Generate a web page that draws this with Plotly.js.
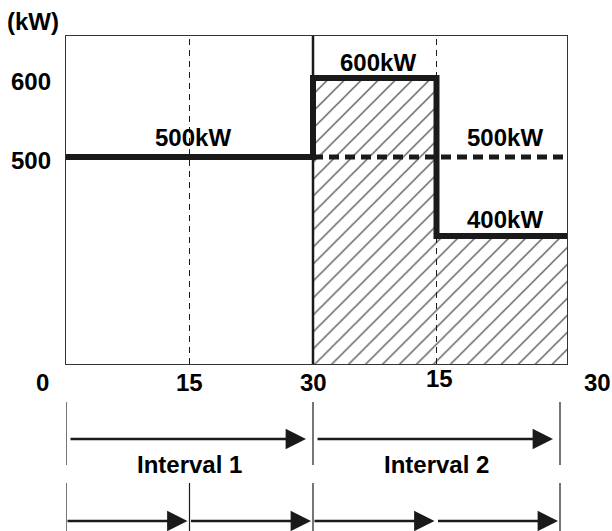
<!DOCTYPE html>
<html>
<head>
<meta charset="utf-8">
<script src="https://cdn.plot.ly/plotly-3.0.1.min.js"></script>
<style>html,body{margin:0;padding:0;background:#fff;}#chart{width:612px;height:531px;}</style>
</head>
<body>
<div id="chart"></div>
<script>
// ---- data ----
const stepTimes = [0, 30, 45];          // minutes where a new power level starts
const stepPower = [500, 600, 400];      // kW levels
const baselineTimes = [30, 60];         // previous level continued (dashed)
const baselinePower = [500, 500];
const intervalStarts = [0, 30];
const intervalEnds = [30, 60];
const intervalNames = ["Interval 1", "Interval 2"];
const subStarts = [0, 15, 30, 45];
const subEnds = [15, 30, 45, 60];
const xTickVals = [0, 15, 30, 45, 60];
const xTickText = ["0", "15", "30", "15", "30"];
const yTickVals = [500, 600];
const levelLabels = ["500kW", "600kW", "500kW", "400kW"];
const levelLabelX = [15.4, 37.9, 53.3, 53.3];
const levelLabelY = [500, 600, 500, 400];

// ---- layout constants ----
const X_END = 60.85;
const INK = '#1a1a1a';
const FONT = {family: 'Liberation Sans, Arial, sans-serif', size: 24, color: '#000', weight: 700};

const stepX = stepTimes.concat([X_END]);
const stepY = stepPower.concat([stepPower[stepPower.length - 1]]);

// hatched area for interval 2
const hatchEdges = [30, 45, X_END];
const hatchX = [], hatchW = [], hatchY = [];
for (let i = 0; i < 2; i++) {
  hatchX.push((hatchEdges[i] + hatchEdges[i + 1]) / 2);
  hatchW.push(hatchEdges[i + 1] - hatchEdges[i]);
  hatchY.push(stepPower[i + 1]);
}

const traces = [
  {type: 'bar', x: hatchX, y: hatchY, width: hatchW, base: 0,
   marker: {color: 'white', line: {width: 0},
            pattern: {shape: '/', fgcolor: '#333', bgcolor: 'white', size: 12, solidity: 0.1}},
   hoverinfo: 'skip', showlegend: false},
  {type: 'scatter', mode: 'lines', x: baselineTimes.map((v, i) => i === baselineTimes.length - 1 ? X_END : v), y: baselinePower,
   line: {color: INK, width: 5, dash: '10px,6px'}, showlegend: false},
  {type: 'scatter', mode: 'lines', x: stepX, y: stepY,
   line: {color: INK, width: 6, shape: 'hv'}, showlegend: false}
];

const PH = 328; // plot height px
const py = (px) => (364 - px) / PH; // page px -> paper y

const shapes = [
  {type: 'line', xref: 'x', yref: 'paper', x0: 15, x1: 15, y0: 0, y1: 1, line: {color: INK, width: 1, dash: '6px,5px'}, layer: 'above'},
  {type: 'line', xref: 'x', yref: 'paper', x0: 45, x1: 45, y0: 0, y1: 1, line: {color: INK, width: 1, dash: '6px,5px'}, layer: 'above'},
  {type: 'line', xref: 'x', yref: 'paper', x0: 30, x1: 30, y0: 0, y1: 1, line: {color: INK, width: 2.5}, layer: 'above'}
];
// interval ticks
[0, 30, 60].forEach(v => shapes.push({type: 'line', xref: 'x', yref: 'paper', x0: v, x1: v, y0: py(402), y1: py(465), line: {color: INK, width: 1.2}}));
[0, 15, 30, 60].forEach(v => shapes.push({type: 'line', xref: 'x', yref: 'paper', x0: v, x1: v, y0: py(483), y1: py(531), line: {color: INK, width: 1.2}}));

const annotations = [];
// axis unit
annotations.push({xref: 'paper', yref: 'paper', x: -0.066, y: py(22), text: '(kW)', showarrow: false, font: FONT, xanchor: 'center', yanchor: 'middle'});
// x tick labels
const tickShiftX = [-24, 0, 0, 3, 37];
const tickShiftY = [0, 0, 0, 4, 0];
xTickVals.forEach((v, i) => annotations.push({xref: 'x', yref: 'paper', x: v, y: py(382), text: xTickText[i], showarrow: false, font: FONT,
  xanchor: 'center', yanchor: 'middle', xshift: tickShiftX[i], yshift: tickShiftY[i]}));
// level labels
const labelShift = [19, 15, 19, 16];
levelLabels.forEach((t, i) => annotations.push({xref: 'x', yref: 'y', x: levelLabelX[i], y: levelLabelY[i], text: t, showarrow: false, font: FONT,
  xanchor: 'center', yanchor: 'middle', yshift: labelShift[i]}));
// interval arrows
const ARROW = {showarrow: true, arrowhead: 2, arrowsize: 1.7, arrowwidth: 2.4, arrowcolor: INK, text: ''};
intervalStarts.forEach((s, i) => {
  annotations.push(Object.assign({xref: 'x', yref: 'paper', x: intervalEnds[i], y: py(439), axref: 'x', ax: s, ay: 0,
    standoff: 7, startstandoff: 3}, ARROW));
  annotations.push({xref: 'x', yref: 'paper', x: (s + intervalEnds[i]) / 2, y: py(464), text: intervalNames[i], showarrow: false, font: FONT,
    xanchor: 'center', yanchor: 'middle'});
});
subStarts.forEach((s, i) => {
  annotations.push(Object.assign({xref: 'x', yref: 'paper', x: subEnds[i], y: py(521), axref: 'x', ax: s, ay: 0,
    standoff: 2, startstandoff: 0}, ARROW));
});

const layout = {
  width: 612, height: 531,
  margin: {l: 66, r: 45, t: 36, b: 167},
  paper_bgcolor: 'white', plot_bgcolor: 'white',
  showlegend: false,
  bargap: 0,
  xaxis: {range: [0, X_END], showgrid: false, zeroline: false, showticklabels: false, ticks: '',
          showline: true, mirror: true, linecolor: '#333', linewidth: 1.2, fixedrange: true},
  yaxis: {range: [238, 653], showgrid: false, zeroline: false, tickvals: yTickVals, ticks: '',
          tickfont: FONT, ticklabelstandoff: 9, ticklabelshift: 4,
          showline: true, mirror: true, linecolor: '#333', linewidth: 1.2, fixedrange: true},
  shapes: shapes,
  annotations: annotations
};

Plotly.newPlot('chart', traces, layout, {staticPlot: true, displayModeBar: false});
</script>
</body>
</html>
